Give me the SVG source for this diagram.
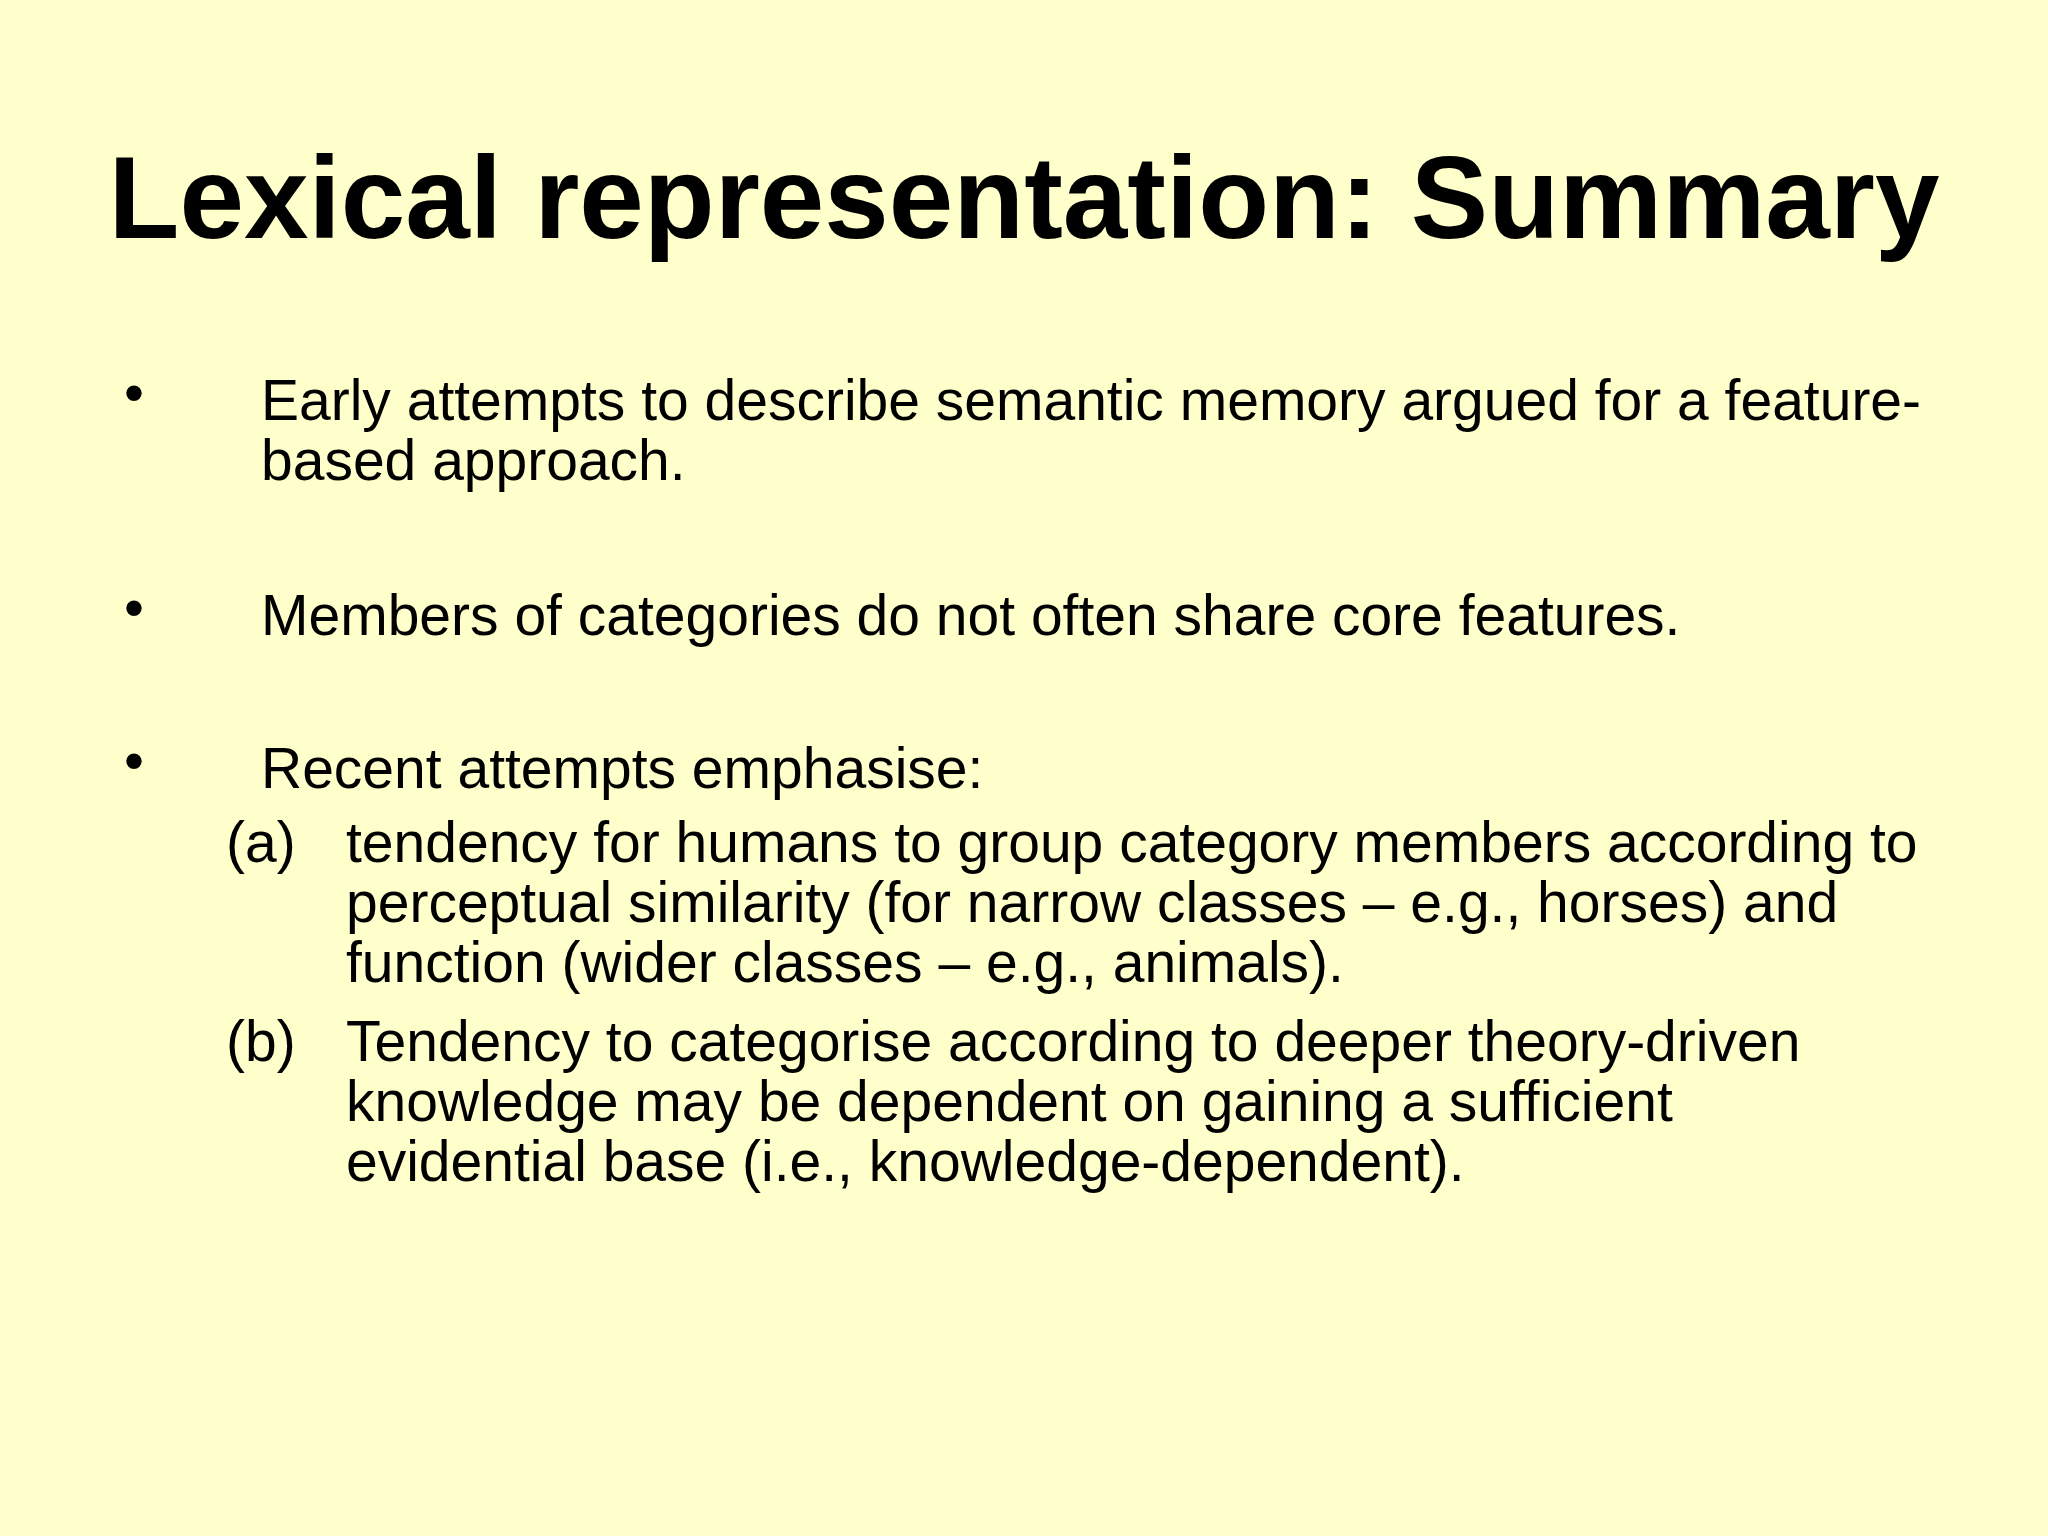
<svg xmlns="http://www.w3.org/2000/svg" width="2048" height="1536" viewBox="0 0 2048 1536">
<style>
text{font-family:"Liberation Sans",Arial,sans-serif;fill:#000}
.t{font-size:116px;font-weight:bold}
.b{font-size:57px}
</style>
<rect width="2048" height="1536" fill="#FFFFCC"/>
<g id="title"><text class="t" x="1024" y="238" text-anchor="middle">Lexical representation: Summary</text></g>
<g id="body" class="b">
<text class="b" x="124" y="412">•</text>
<text class="b" x="261" y="420">Early attempts to describe semantic memory argued for a feature-</text>
<text class="b" x="261" y="480">based approach.</text>
<text class="b" x="124" y="627">•</text>
<text class="b" x="261" y="635">Members of categories do not often share core features.</text>
<text class="b" x="124" y="780">•</text>
<text class="b" x="261" y="788">Recent attempts emphasise:</text>
<text class="b" x="226" y="862">(a)</text>
<text class="b" x="346" y="862">tendency for humans to group category members according to</text>
<text class="b" x="346" y="922">perceptual similarity (for narrow classes – e.g., horses) and</text>
<text class="b" x="346" y="982">function (wider classes – e.g., animals).</text>
<text class="b" x="226" y="1061">(b)</text>
<text class="b" x="346" y="1061">Tendency to categorise according to deeper theory-driven</text>
<text class="b" x="346" y="1121">knowledge may be dependent on gaining a sufficient</text>
<text class="b" x="346" y="1181">evidential base (i.e., knowledge-dependent).</text>
</g>
</svg>
